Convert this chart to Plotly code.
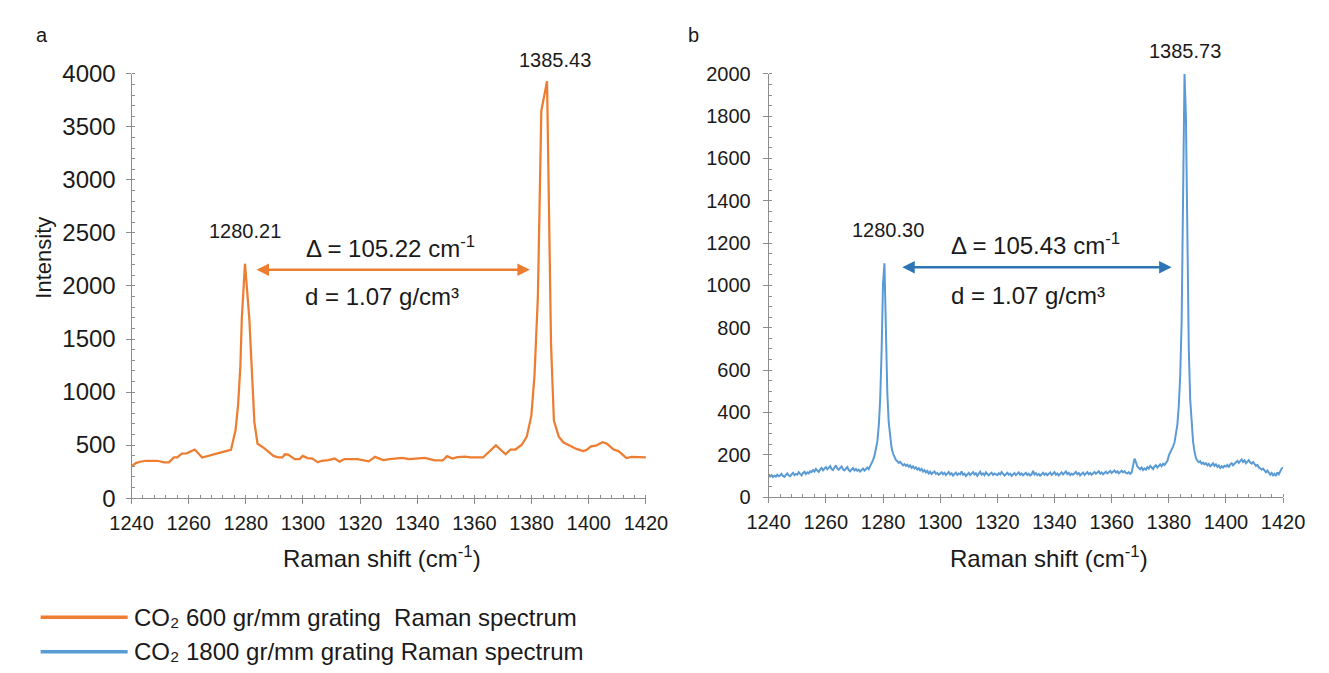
import numpy as np
import plotly.graph_objects as go

W, H = 1329, 673
OFF = 8  # the page body margin shifts the figure by 8 px; compensate

# ---------------- data ----------------
shift_600 = [1240.0, 1241.5, 1243.0, 1245.0, 1249.0, 1251.4, 1253.1, 1254.8, 1256.0, 1257.6,
             1259.3, 1262.1, 1264.7, 1266.6, 1271.7, 1274.8, 1276.4, 1277.3, 1278.1, 1278.6,
             1279.7, 1281.2, 1283.0, 1284.1, 1286.3, 1289.7, 1291.4, 1292.8, 1293.7, 1294.8,
             1297.1, 1298.8, 1299.9, 1301.6, 1303.3, 1305.2, 1306.6, 1308.9, 1311.1, 1312.8,
             1314.5, 1319.1, 1321.3, 1323.0, 1325.2, 1328.1, 1330.3, 1334.8, 1337.1, 1342.7,
             1346.1, 1348.9, 1350.4, 1352.3, 1354.0, 1356.8, 1358.5, 1363.0, 1367.5, 1370.9,
             1372.6, 1374.3, 1376.6, 1378.3, 1379.9, 1381.0, 1382.2, 1383.4, 1385.4, 1386.8,
             1387.8, 1389.5, 1391.2, 1393.5, 1395.7, 1398.0, 1399.1, 1400.8, 1402.5, 1404.8,
             1406.4, 1408.7, 1410.4, 1413.2, 1414.9, 1420.0]
int_600 = [300, 330, 343, 352, 352, 337, 337, 383, 383, 419,
           422, 458, 383, 398, 434, 455, 640, 880, 1250, 1700,
           2210, 1700, 714, 512, 473, 398, 383, 383, 413, 410,
           368, 368, 398, 377, 373, 337, 352, 359, 373, 343,
           368, 368, 352, 346, 389, 359, 368, 380, 368, 380,
           355, 355, 395, 373, 386, 392, 383, 383, 497, 413,
           458, 458, 503, 579, 775, 1150, 1900, 3650, 3930, 1450,
           730, 579, 524, 494, 464, 443, 452, 488, 494, 527,
           512, 458, 443, 377, 389, 383]

# 1800 gr/mm spectrum sampled every 0.5 cm-1 from 1240 to 1420
shift_1800 = np.round(np.arange(1240.0, 1420.01, 0.5), 1)
int_1800 = [
    108, 98, 104, 95, 101, 97, 106, 99, 103, 110, 100, 96, 105, 112, 102, 99, 108, 115, 104, 110,   # 1240
    106, 118, 110, 103, 114, 120, 109, 117, 112, 122, 118, 128, 121, 133, 126, 119, 130, 138, 127, 135,  # 1250
    142, 131, 139, 147, 133, 128, 140, 150, 136, 129, 138, 145, 131, 126, 135, 142, 128, 122, 131, 137,  # 1260
    126, 133, 124, 130, 121, 128, 135, 125, 131, 140, 132, 145, 160, 175, 195, 222, 262, 334, 459, 688,  # 1270
    1010, 1105, 749, 494, 353, 277, 233, 206, 188, 176, 170, 162, 167, 158, 150, 156, 148, 153, 144, 150,  # 1280
    138, 145, 135, 141, 130, 137, 126, 133, 121, 128, 117, 124, 112, 120, 109, 116, 121, 110, 114, 106,  # 1290
    112, 118, 108, 115, 104, 111, 119, 107, 113, 102, 109, 116, 105, 112, 108, 121, 106, 111, 100, 108,  # 1300
    115, 104, 110, 118, 107, 113, 101, 109, 120, 106, 112, 104, 117, 109, 103, 111, 116, 105, 112, 108,  # 1310
    104, 113, 107, 119, 110, 102, 108, 115, 106, 111, 100, 107, 114, 104, 110, 117, 106, 112, 103, 109,  # 1320
    115, 105, 111, 102, 108, 124, 107, 113, 104, 110, 101, 108, 115, 106, 112, 103, 109, 116, 105, 111,  # 1330
    118, 106, 112, 103, 110, 117, 107, 113, 121, 109, 115, 104, 111, 106, 113, 119, 108, 114, 103, 110,  # 1340
    116, 105, 111, 118, 108, 114, 106, 112, 119, 110, 116, 122, 111, 117, 108, 114, 120, 112, 118, 124,  # 1350
    114, 120, 126, 116, 122, 113, 119, 125, 117, 123, 115, 112, 118, 110, 116, 150, 182, 165, 145, 138,  # 1360
    132, 140, 128, 136, 130, 142, 135, 147, 139, 133, 145, 151, 140, 148, 155, 146, 158, 152, 163, 170,  # 1370
    196, 210, 218, 240, 258, 297, 343, 432, 575, 830, 1300, 2000, 1800, 1150, 700, 460, 330, 262, 215, 185,  # 1380
    172, 165, 170, 158, 163, 155, 160, 150, 157, 146, 152, 160, 148, 155, 143, 150, 138, 146, 140, 148,  # 1390
    145, 152, 141, 155, 160, 150, 158, 165, 172, 162, 170, 178, 166, 174, 160, 168, 175, 163, 158, 166,  # 1400
    155, 148, 152, 140, 136, 130, 135, 124, 118, 125, 112, 106, 114, 103, 110, 100, 117, 108, 122, 135,  # 1410
    140,
]

x_ticks = list(range(1240, 1421, 20))
name_600 = "CO₂ 600 gr/mm grating  Raman spectrum"
name_1800 = "CO₂ 1800 gr/mm grating Raman spectrum"
peaks_600 = ["1280.21", "1385.43"]
peaks_1800 = ["1280.30", "1385.73"]
delta_600 = "Δ = 105.22 cm<sup>-1</sup>"
delta_1800 = "Δ = 105.43 cm<sup>-1</sup>"
density_text = "d = 1.07 g/cm³"

ORANGE = "#ED7D31"
BLUE = "#5B9BD5"
BLUE_ARROW = "#2E75B6"
AXIS = "#8C8C8C"
TXT = "#1a1a1a"
FONT = "Liberation Sans, Arial, sans-serif"


def px(x):
    return (x - OFF) / W


def py(y):
    return (H - (y - OFF)) / H


fig = go.Figure()
fig.add_trace(go.Scatter(x=shift_600, y=int_600, mode="lines", name=name_600,
                         line=dict(color=ORANGE, width=2.25), xaxis="x", yaxis="y",
                         showlegend=False))
fig.add_trace(go.Scatter(x=shift_1800, y=int_1800, mode="lines", name=name_1800,
                         line=dict(color=BLUE, width=2), xaxis="x2", yaxis="y2",
                         showlegend=False))


def axis_style(size, standoff):
    return dict(showline=True, linecolor=AXIS, linewidth=1, showgrid=False, zeroline=False,
                ticks="outside", ticklen=5, tickcolor=AXIS, tickwidth=1,
                ticklabelstandoff=standoff,
                tickfont=dict(size=size, color=TXT, family=FONT), fixedrange=True)


fig.update_layout(
    width=W, height=H, margin=dict(l=0, r=0, t=0, b=0),
    paper_bgcolor="white", plot_bgcolor="white",
    font=dict(family=FONT, color=TXT),
    xaxis=dict(domain=[px(113), px(645)], range=[1240, 1420], tickvals=x_ticks, anchor="y",
               minor=dict(tick0=1240, dtick=4, ticks="inside", ticklen=3, tickcolor=AXIS),
               **axis_style(20, 2)),
    yaxis=dict(domain=[py(504), py(62)], range=[0, 4000], dtick=500, anchor="x",
               minor=dict(tick0=0, dtick=100, ticks="inside", ticklen=3, tickcolor=AXIS),
               **axis_style(24, 5)),
    xaxis2=dict(domain=[px(772), px(1304)], range=[1240, 1420], tickvals=x_ticks, anchor="y2",
                minor=dict(tick0=1240, dtick=4, ticks="inside", ticklen=3, tickcolor=AXIS),
                **axis_style(20, 2)),
    yaxis2=dict(domain=[py(503), py(62)], range=[0, 2000], dtick=200, anchor="x2",
                minor=dict(tick0=0, dtick=50, ticks="inside", ticklen=3, tickcolor=AXIS),
                **axis_style(20, 8)),
)

ann = []
# panel letters
ann.append(dict(x=px(20), y=py(22), xref="paper", yref="paper", text="a", showarrow=False,
                font=dict(size=20, color=TXT), xanchor="center", yanchor="middle"))
ann.append(dict(x=px(694), y=py(22), xref="paper", yref="paper", text="b", showarrow=False,
                font=dict(size=20, color=TXT), xanchor="center", yanchor="middle"))
# axis titles
ann.append(dict(x=px(22), y=py(254), xref="paper", yref="paper", text="Intensity", showarrow=False,
                textangle=-90, font=dict(size=22, color=TXT), xanchor="center", yanchor="middle"))
ann.append(dict(x=px(372), y=py(565), xref="paper", yref="paper", text="Raman shift (cm<sup>-1</sup>)",
                showarrow=False, font=dict(size=24, color=TXT), xanchor="center", yanchor="middle"))
ann.append(dict(x=px(1062), y=py(565), xref="paper", yref="paper", text="Raman shift (cm<sup>-1</sup>)",
                showarrow=False, font=dict(size=24, color=TXT), xanchor="center", yanchor="middle"))

# left panel labels
ann.append(dict(x=1279.6, y=2520, xref="x", yref="y", text=peaks_600[0], showarrow=False,
                font=dict(size=20, color=TXT), xanchor="center", yanchor="middle"))
ann.append(dict(x=1388.1, y=py(48), xref="x", yref="paper", text=peaks_600[1], showarrow=False,
                font=dict(size=20, color=TXT), xanchor="center", yanchor="middle"))
ann.append(dict(x=1330.6, y=2371, xref="x", yref="y", text=delta_600, showarrow=False,
                font=dict(size=24, color=TXT), xanchor="center", yanchor="middle"))
ann.append(dict(x=1327.7, y=1905, xref="x", yref="y", text=density_text, showarrow=False,
                font=dict(size=24, color=TXT), xanchor="center", yanchor="middle"))
ann.append(dict(x=1379.4, y=2154, ax=1283.2, ay=2154, xref="x", yref="y", axref="x", ayref="y",
                text="", showarrow=True, arrowhead=2, arrowside="end+start", arrowsize=1,
                arrowwidth=2.5, arrowcolor=ORANGE))

# right panel labels
ann.append(dict(x=1281.9, y=1263, xref="x2", yref="y2", text=peaks_1800[0], showarrow=False,
                font=dict(size=20, color=TXT), xanchor="center", yanchor="middle"))
ann.append(dict(x=1385.5, y=py(38), xref="x2", yref="paper", text=peaks_1800[1], showarrow=False,
                font=dict(size=20, color=TXT), xanchor="center", yanchor="middle"))
ann.append(dict(x=1333.2, y=1198, xref="x2", yref="y2", text=delta_1800, showarrow=False,
                font=dict(size=24, color=TXT), xanchor="center", yanchor="middle"))
ann.append(dict(x=1330.6, y=953, xref="x2", yref="y2", text=density_text, showarrow=False,
                font=dict(size=24, color=TXT), xanchor="center", yanchor="middle"))
ann.append(dict(x=1381.0, y=1086, ax=1286.2, ay=1086, xref="x2", yref="y2", axref="x2", ayref="y2",
                text="", showarrow=True, arrowhead=2, arrowside="end+start", arrowsize=1,
                arrowwidth=2.5, arrowcolor=BLUE_ARROW))

# legend (drawn)
shapes = []
for yy, col, nm in [(628, ORANGE, name_600), (664, BLUE, name_1800)]:
    shapes.append(dict(type="line", xref="paper", yref="paper", x0=px(19), x1=px(109),
                       y0=py(yy), y1=py(yy), line=dict(color=col, width=3.5)))
    ann.append(dict(x=px(113), y=py(yy), xref="paper", yref="paper", text=nm, showarrow=False,
                    font=dict(size=24, color=TXT), xanchor="left", yanchor="middle"))

fig.update_layout(annotations=ann, shapes=shapes)
fig.write_html("out.html")
